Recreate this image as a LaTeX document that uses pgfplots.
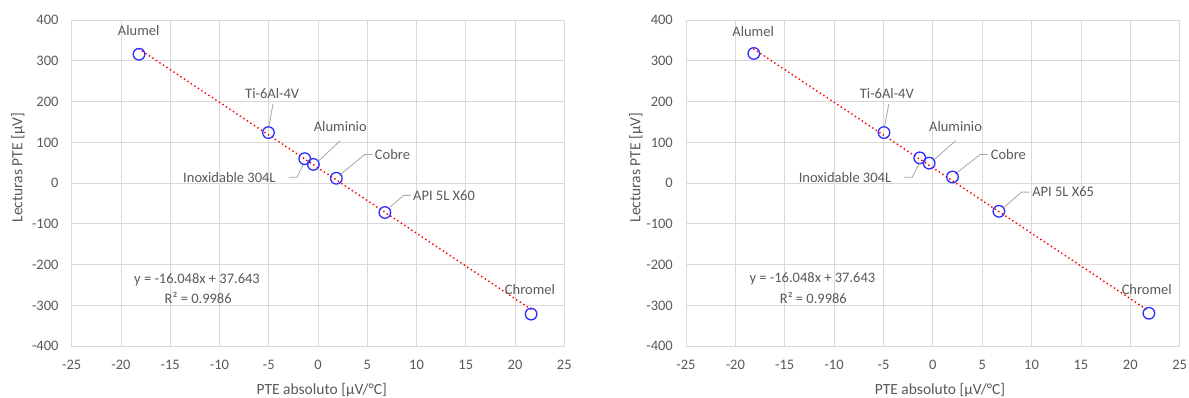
\documentclass[border=0pt]{standalone}
\usepackage{pgfplots}
\pgfplotsset{compat=1.18}
\usepackage{fontspec}
\setmainfont{Carlito}
\definecolor{txt}{RGB}{89,89,89}
\definecolor{grd}{RGB}{217,217,217}
\definecolor{lead}{RGB}{166,166,166}
\definecolor{mk}{RGB}{45,45,255}
\definecolor{tr}{RGB}{255,0,0}
\pgfplotsset{mystyle/.style={
  scale only axis, height=326.3pt,
  xmin=-25,xmax=25,ymin=-400,ymax=400,
  xtick={-25,-20,-15,-10,-5,0,5,10,15,20,25},
  ytick={-400,-300,-200,-100,0,100,200,300,400},
  xticklabels={-25,-20,-15,-10,-5,0,5,10,15,20,25},
  yticklabels={-400,-300,-200,-100,0,100,200,300,400},
  grid=major, major grid style={draw=grd, line width=0.9pt},
  axis line style={draw=grd, line width=0.9pt},
  tick style={draw=none},
  every tick label/.append style={font=\fontsize{14.5}{14.5}\selectfont, text=txt, inner sep=0pt},
  yticklabel style={anchor=east, xshift=-13pt},
  xticklabel style={anchor=north, yshift=-13.7pt},
  clip=false,
}}
\tikzset{lbl/.style={font=\fontsize{14.5}{14.5}\selectfont, text=txt, inner sep=0pt},
  ttl/.style={font=\fontsize{15.5}{15.5}\selectfont, text=txt, inner sep=0pt},
  ld/.style={draw=lead, line width=0.8pt},
  mks/.style={only marks, mark=o, mark size=5.8pt, mark options={draw=mk, line width=1.3pt}},
  trl/.style={draw=tr, line width=2pt, line cap=round, dash pattern=on 0pt off 4.2pt}}
\begin{document}
\begin{tikzpicture}
\useasboundingbox (-71.7pt,-51.7pt) rectangle (1117.3pt,346.3pt);
% ---------- left chart ----------
\begin{axis}[mystyle, width=492.6pt, at={(0pt,0pt)}, anchor=south west]
\addplot[mks] coordinates {(-18.17,316) (-5.03,124) (-1.35,60) (-0.47,46) (1.86,12) (6.79,-72) (21.63,-321)};
\addplot[trl] coordinates {(-18.17,329.2) (21.63,-309.5)};
\node[lbl] at (axis cs:-18.2,374) {Alumel};
\node[lbl] at (axis cs:-4.65,220) {Ti-6Al-4V};
\draw[ld] (axis cs:-4.57,194) -- (axis cs:-5.0,137);
\node[lbl] at (axis cs:2.26,138) {Aluminio};
\draw[ld] (axis cs:2.26,104) -- (axis cs:0.08,55);
\node[lbl] at (axis cs:-8.99,14.6) {Inoxidable 304L};
\draw[ld] (axis cs:-2.98,14.6) -- (axis cs:-2.13,14.6) -- (axis cs:-1.43,48);
\node[lbl] at (axis cs:7.56,70) {Cobre};
\draw[ld] (axis cs:5.55,70) -- (axis cs:4.73,70) -- (axis cs:2.17,19);
\node[lbl] at (axis cs:12.79,-30) {API 5L X60};
\draw[ld] (axis cs:9.38,-30) -- (axis cs:8.69,-30) -- (axis cs:7.29,-59);
\node[lbl] at (axis cs:21.51,-262) {Chromel};
\node[lbl] at (axis cs:-12.28,-237) {y = -16.048x + 37.643};
\node[lbl] at (axis cs:-12.16,-282) {R² = 0.9986};
\end{axis}
\node[ttl] at (250pt,-44pt) {PTE absoluto [µV/°C]};
\node[ttl, rotate=90] at (-53.7pt,178.8pt) {Lecturas PTE [µV]};
% ---------- right chart ----------
\begin{axis}[mystyle, width=493.7pt, at={(614.3pt,0pt)}, anchor=south west]
\addplot[mks] coordinates {(-18.13,318) (-4.95,124) (-1.33,62) (-0.37,49) (1.99,15) (6.69,-69) (21.88,-319)};
\addplot[trl] coordinates {(-18.13,328.6) (21.88,-313.5)};
\node[lbl] at (axis cs:-18.2,372) {Alumel};
\node[lbl] at (axis cs:-4.66,220) {Ti-6Al-4V};
\draw[ld] (axis cs:-4.46,194) -- (axis cs:-4.88,140);
\node[lbl] at (axis cs:2.3,138) {Aluminio};
\draw[ld] (axis cs:2.3,104) -- (axis cs:0.2,59);
\node[lbl] at (axis cs:-8.9,14.6) {Inoxidable 304L};
\draw[ld] (axis cs:-2.94,14.6) -- (axis cs:-2.1,14.6) -- (axis cs:-1.4,47);
\node[lbl] at (axis cs:7.65,70) {Cobre};
\draw[ld] (axis cs:5.54,70) -- (axis cs:4.78,70) -- (axis cs:2.3,23);
\node[lbl] at (axis cs:13.2,-22) {API 5L X65};
\draw[ld] (axis cs:9.74,-22) -- (axis cs:8.98,-22) -- (axis cs:7.26,-58);
\node[lbl] at (axis cs:21.66,-262) {Chromel};
\node[lbl] at (axis cs:-12.2,-235) {y = -16.048x + 37.643};
\node[lbl] at (axis cs:-12.1,-282) {R² = 0.9986};
\end{axis}
\node[ttl] at (868.3pt,-44pt) {PTE absoluto [µV/°C]};
\node[ttl, rotate=90] at (564.3pt,178.8pt) {Lecturas PTE [µV]};
\end{tikzpicture}
\end{document}
